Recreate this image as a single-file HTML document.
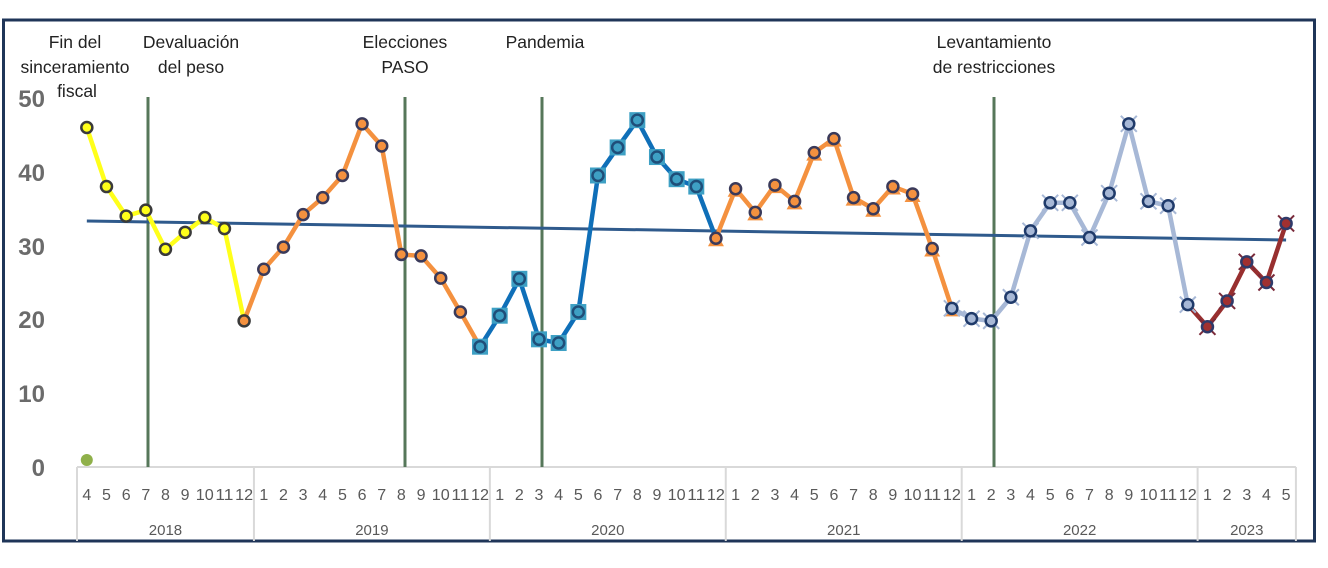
<!DOCTYPE html>
<html><head><meta charset="utf-8"><style>
html,body{margin:0;padding:0;background:#fff;width:1328px;height:568px;overflow:hidden}
svg{display:block}
text{font-family:"Liberation Sans",sans-serif}
</style></head><body>
<svg id="s" width="1328" height="568" xmlns="http://www.w3.org/2000/svg">
<rect x="0" y="0" width="1328" height="568" fill="#fff"/>
<rect x="3.5" y="20" width="1311" height="521" fill="none" stroke="#1f3558" stroke-width="3"/>
<g font-size="17.5" fill="#222" text-anchor="middle">
<text x="75" y="48">Fin del</text><text x="75" y="73">sinceramiento</text><text x="77" y="97">fiscal</text>
<text x="191" y="48">Devaluación</text><text x="191" y="73">del peso</text>
<text x="405" y="48">Elecciones</text><text x="405" y="73">PASO</text>
<text x="545" y="48">Pandemia</text>
<text x="994" y="48">Levantamiento</text><text x="994" y="73">de restricciones</text>
</g>
<g font-size="24" font-weight="bold" fill="#6b6b6b" text-anchor="end">
<text x="45" y="107">50</text><text x="45" y="181">40</text><text x="45" y="255">30</text>
<text x="45" y="328">20</text><text x="45" y="402">10</text><text x="45" y="476">0</text>
</g>
<g id="axis"></g>
<g id="plot"></g>
</svg>
<script>
const ns="http://www.w3.org/2000/svg";
function el(p,t,a,txt){const e=document.createElementNS(ns,t);for(const k in a)if(a[k]!==undefined)e.setAttribute(k,a[k]);if(txt!==undefined)e.textContent=txt;p.appendChild(e);return e;}
const ax=document.getElementById('axis'),pl=document.getElementById('plot');
const X0=77,W=19.66;const X=i=>X0+W*(i+0.5);const Y=v=>467-v*7.38;
el(ax,'line',{x1:X0,y1:467,x2:X0+62*W,y2:467,stroke:'#d9d9d9','stroke-width':2});
const years=[[2018,9],[2019,12],[2020,12],[2021,12],[2022,12],[2023,5]];
let idx=0;const months=[];
el(ax,'line',{x1:X0,y1:467,x2:X0,y2:541,stroke:'#d9d9d9','stroke-width':2});
years.forEach(([y,n])=>{const s=idx;for(let k=0;k<n;k++){months.push(y==2018?k+4:k+1);}idx+=n;
 el(ax,'line',{x1:X0+idx*W,y1:467,x2:X0+idx*W,y2:541,stroke:'#d9d9d9','stroke-width':2});
 el(ax,'text',{x:X0+(s+idx)/2*W,y:535,'font-size':15,fill:'#595959','text-anchor':'middle'},String(y));});
months.forEach((m,i)=>el(ax,'text',{x:X(i),y:500,'font-size':16,fill:'#595959','text-anchor':'middle','textLength':m>9?18:undefined,'lengthAdjust':m>9?'spacingAndGlyphs':undefined},String(m)));
[148,405,542,994].forEach(x=>el(pl,'line',{x1:x,y1:97,x2:x,y2:467,stroke:'#56775a','stroke-width':3}));
el(pl,'circle',{cx:86.8,cy:460,r:6,fill:'#8fb04a'});
const v=[46,38,34,34.8,29.5,31.8,33.8,32.3,19.8,
26.8,29.8,34.2,36.5,39.5,46.5,43.5,28.8,28.6,25.6,21,16.3,
20.5,25.5,17.3,16.8,21,39.5,43.3,47,42,39,38,31,
37.7,34.5,38.2,36,42.6,44.5,36.5,35,38,37,29.6,21.5,
20.1,19.8,23,32,35.8,35.8,31.1,37.1,46.5,36,35.4,22,
19,22.5,27.8,25,33];
el(pl,'line',{x1:X(0),y1:221,x2:X(61),y2:240,stroke:'#2f5a8c','stroke-width':3});
function seg(a,b,col){let d='';for(let i=a;i<=b;i++)d+=(i==a?'M':'L')+X(i)+' '+Y(v[i])+' ';el(pl,'path',{d:d,fill:'none',stroke:col,'stroke-width':4.5,'stroke-linejoin':'round'});}
seg(0,8,'#ffff1a');seg(8,20,'#f4913f');seg(20,32,'#0f6fb8');seg(32,44,'#f4913f');seg(44,56,'#a7b8d6');seg(56,61,'#982f2f');
function cross(x,y,c){el(pl,'path',{d:`M${x-8} ${y-8}L${x+8} ${y+8}M${x+8} ${y-8}L${x-8} ${y+8}`,stroke:c,'stroke-width':2});}
for(let i=0;i<62;i++){const x=X(i),y=Y(v[i]);let fill='#ffff1a',st='#3a3a3a';
 if(i>=20&&i<32){el(pl,'rect',{x:x-8,y:y-8,width:16,height:16,fill:'#3ea0c4'});fill='#3ea0c4';st='#1f4e79';}
 else if(i>=9&&i<20||i>=32&&i<44){fill='#f4913f';st='#3a3a5a';if(i>=32)el(pl,'path',{d:`M${x-8} ${y+8}L${x} ${y-6}L${x+8} ${y+8}Z`,fill:'#f4913f'});}
 else if(i>=44&&i<57){if(i==44)el(pl,'path',{d:`M${x-8} ${y+8}L${x} ${y-6}L${x+8} ${y+8}Z`,fill:'#f4913f'});cross(x,y,'#a7b8d6');fill='#a7b8d6';st='#1f3a6a';}
 else if(i>=57){cross(x,y,'#7a2a3a');fill='#a03030';st='#2f3a6a';}
 if(i==8)fill='#f4913f';
 el(pl,'circle',{cx:x,cy:y,r:5.5,fill:fill,stroke:st,'stroke-width':2.5});}
</script>
</body></html>
